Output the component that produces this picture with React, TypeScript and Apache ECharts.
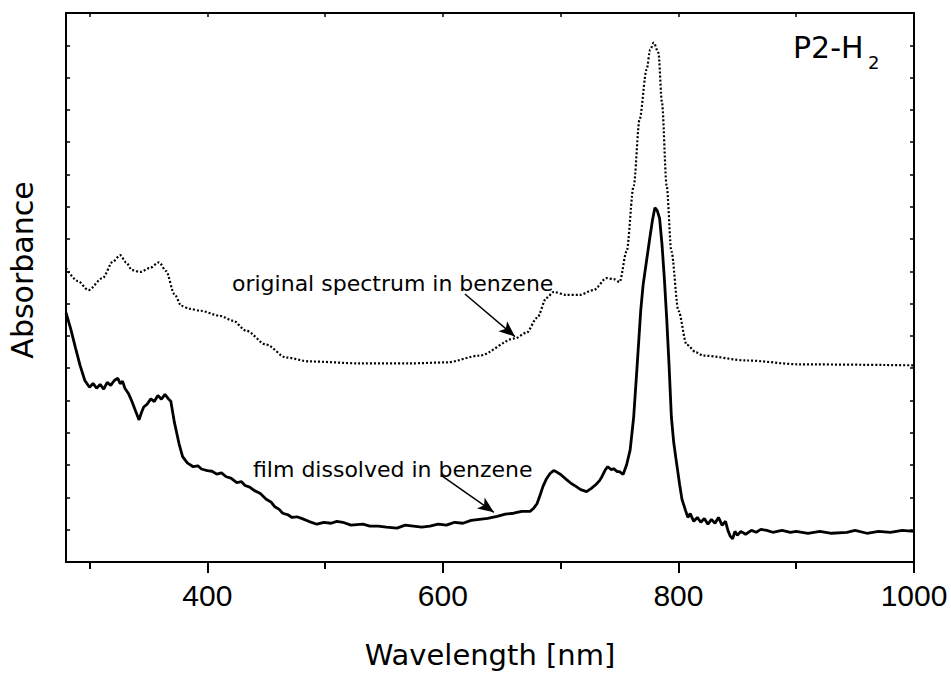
import React, { useEffect, useRef } from "react";
import * as echarts from "echarts";

// Wavelength ticks
const majorTicks = [400, 600, 800, 1000];
const minorTicks = [300, 500, 700, 900];
const allTicks = [300, 400, 500, 600, 700, 800, 900, 1000];

// Original spectrum in benzene (dotted)
const origX = [280, 290, 299, 311, 320, 326, 331, 336, 343, 351, 359, 365, 372, 378, 385, 394, 411, 422, 433, 450, 467, 487, 530, 572, 603, 631, 661, 671, 680, 688, 694, 705, 716, 728, 739, 745, 750, 756, 762, 767, 773, 776, 779, 783, 786, 790, 794, 800, 807, 815, 821, 858, 903, 1000];
const origY = [0.910, 0.870, 0.842, 0.879, 0.931, 0.950, 0.928, 0.904, 0.898, 0.910, 0.928, 0.901, 0.830, 0.793, 0.784, 0.778, 0.762, 0.747, 0.716, 0.673, 0.633, 0.621, 0.615, 0.615, 0.618, 0.639, 0.692, 0.710, 0.756, 0.818, 0.836, 0.827, 0.827, 0.842, 0.879, 0.876, 0.867, 0.962, 1.165, 1.371, 1.525, 1.586, 1.608, 1.577, 1.423, 1.165, 0.962, 0.778, 0.673, 0.649, 0.639, 0.624, 0.612, 0.609];

// Film dissolved in benzene (solid)
const filmX = [280, 284, 288, 292, 296, 300, 303, 306, 309, 312, 315, 318, 321, 324, 326, 328, 330, 333, 336, 339, 342, 344, 346, 349, 352, 355, 358, 361, 364, 367, 369, 372, 376, 379, 383, 388, 392, 395, 400, 404, 408, 412, 416, 420, 425, 429, 432, 436, 440, 445, 450, 454, 457, 461, 464, 468, 472, 476, 480, 486, 493, 499, 505, 510, 515, 522, 532, 538, 545, 552, 561, 568, 575, 582, 589, 596, 603, 610, 617, 624, 631, 638, 646, 653, 660, 667, 674, 677, 680, 683, 685, 688, 691, 694, 696, 700, 705, 709, 713, 717, 722, 726, 730, 733, 735, 738, 740, 743, 745, 748, 750, 753, 756, 759, 762, 765, 768, 770, 773, 776, 778, 780, 782, 784, 786, 788, 790, 792, 794, 796, 798, 801, 803, 806, 808, 810, 813, 816, 819, 822, 825, 828, 831, 834, 837, 840, 842, 844, 846, 848, 850, 853, 857, 862, 866, 870, 875, 880, 888, 895, 900, 910, 920, 930, 943, 950, 960, 970, 980, 990, 1000];
const filmY = [0.772, 0.722, 0.664, 0.608, 0.562, 0.541, 0.553, 0.538, 0.550, 0.535, 0.556, 0.547, 0.562, 0.569, 0.552, 0.560, 0.538, 0.522, 0.497, 0.468, 0.440, 0.462, 0.480, 0.489, 0.505, 0.497, 0.516, 0.504, 0.519, 0.505, 0.498, 0.433, 0.366, 0.326, 0.307, 0.295, 0.298, 0.288, 0.283, 0.281, 0.272, 0.276, 0.264, 0.260, 0.246, 0.249, 0.237, 0.232, 0.221, 0.212, 0.194, 0.186, 0.172, 0.163, 0.151, 0.147, 0.138, 0.140, 0.135, 0.126, 0.117, 0.123, 0.120, 0.126, 0.123, 0.114, 0.117, 0.111, 0.111, 0.108, 0.105, 0.114, 0.111, 0.108, 0.111, 0.117, 0.114, 0.123, 0.120, 0.129, 0.132, 0.135, 0.141, 0.148, 0.151, 0.157, 0.157, 0.166, 0.181, 0.212, 0.234, 0.258, 0.274, 0.283, 0.280, 0.271, 0.255, 0.243, 0.234, 0.224, 0.218, 0.228, 0.240, 0.252, 0.264, 0.286, 0.295, 0.286, 0.289, 0.280, 0.280, 0.271, 0.301, 0.347, 0.449, 0.612, 0.780, 0.858, 0.935, 1.011, 1.060, 1.097, 1.088, 1.064, 0.985, 0.880, 0.756, 0.612, 0.449, 0.370, 0.317, 0.240, 0.194, 0.160, 0.138, 0.150, 0.126, 0.138, 0.123, 0.135, 0.117, 0.132, 0.120, 0.138, 0.114, 0.126, 0.098, 0.080, 0.072, 0.095, 0.083, 0.095, 0.086, 0.098, 0.092, 0.101, 0.098, 0.092, 0.098, 0.092, 0.095, 0.089, 0.095, 0.089, 0.092, 0.098, 0.089, 0.095, 0.092, 0.098, 0.095];

const zip = (xs: number[], ys: number[]) => xs.map((x, i) => [x, ys[i]]);

export default function App() {
  const ref = useRef<HTMLDivElement>(null);
  useEffect(() => {
    if (!ref.current) return;
    const chart = echarts.init(ref.current, undefined, { renderer: "svg" });
    const axisLineStyle = { color: "#000", width: 2 };
    const tickFont = "Liberation Sans";
    const annFont = "DejaVu Sans";
    const baseX = {
      type: "value",
      min: 280,
      max: 1000,
      splitLine: { show: false },
    };
    const baseY = {
      type: "value",
      min: 0,
      max: 1.7,
      interval: 0.1,
      splitLine: { show: false },
      axisLabel: { show: false },
      axisLine: { show: true, lineStyle: axisLineStyle },
      axisTick: { show: true, inside: true, length: 4, lineStyle: { color: "#000", width: 1.5 } },
    };
    chart.setOption({
      animation: false,
      grid: { left: 66, right: 37, top: 13, bottom: 108 },
      xAxis: [
        {
          ...baseX,
          position: "bottom",
          axisLine: { show: true, lineStyle: axisLineStyle },
          axisTick: { show: true, length: 11, customValues: majorTicks, lineStyle: { color: "#000", width: 2 } },
          axisLabel: {
            show: true,
            customValues: majorTicks,
            margin: 18,
            color: "#000",
            fontSize: 30,
            fontFamily: tickFont,
            formatter: (v: number) => String(v),
          },
          name: "Wavelength [nm]",
          nameLocation: "middle",
          nameGap: 78,
          nameTextStyle: { color: "#000", fontSize: 29, fontFamily: annFont },
        },
        {
          ...baseX,
          position: "bottom",
          axisLine: { show: false },
          axisTick: { show: true, length: 7, customValues: minorTicks, lineStyle: { color: "#000", width: 2 } },
          axisLabel: { show: false },
        },
        {
          ...baseX,
          position: "top",
          axisLine: { show: true, lineStyle: axisLineStyle },
          axisTick: { show: true, inside: true, length: 4, customValues: allTicks, lineStyle: { color: "#000", width: 1.5 } },
          axisLabel: { show: false },
        },
      ],
      yAxis: [
        { ...baseY, position: "left" },
        { ...baseY, position: "right" },
      ],
      series: [
        {
          type: "line",
          name: "original spectrum in benzene",
          data: zip(origX, origY),
          xAxisIndex: 0,
          yAxisIndex: 0,
          showSymbol: false,
          smooth: 0.3,
          smoothMonotone: "x",
          lineStyle: { color: "#000", width: 2.2, type: [2, 2], cap: "butt" },
          silent: true,
          markLine: {
            silent: true,
            symbol: ["none", "arrow"],
            symbolSize: [10, 16],
            label: { show: false },
            lineStyle: { color: "#000", width: 1.5, type: "solid" },
            data: [
              [{ coord: [618.7, 0.83] }, { coord: [661.2, 0.698] }],
              [{ coord: [599.2, 0.267] }, { coord: [643.3, 0.154] }],
            ],
          },
        },
        {
          type: "line",
          name: "film dissolved in benzene",
          data: zip(filmX, filmY),
          xAxisIndex: 0,
          yAxisIndex: 0,
          showSymbol: false,
          lineStyle: { color: "#000", width: 2.8 },
          silent: true,
        },
      ],
      graphic: [
        {
          type: "text",
          x: 232,
          y: 283,
          style: { text: "original spectrum in benzene", fill: "#000", font: '22px "DejaVu Sans", sans-serif', textAlign: "left", textVerticalAlign: "middle" },
        },
        {
          type: "text",
          x: 253,
          y: 469,
          style: { text: "film dissolved in benzene", fill: "#000", font: '22px "DejaVu Sans", sans-serif', textAlign: "left", textVerticalAlign: "middle" },
        },
        {
          type: "text",
          x: 793,
          y: 47,
          style: { text: "P2-H", fill: "#000", font: '30px "DejaVu Sans", sans-serif', textAlign: "left", textVerticalAlign: "middle" },
        },
        {
          type: "text",
          x: 868,
          y: 62,
          style: { text: "2", fill: "#000", font: '18px "DejaVu Sans", sans-serif', textAlign: "left", textVerticalAlign: "middle" },
        },
        {
          type: "text",
          x: 22,
          y: 270,
          rotation: Math.PI / 2,
          style: { text: "Absorbance", fill: "#000", font: '30px "DejaVu Sans", sans-serif', textAlign: "center", textVerticalAlign: "middle" },
        },
      ],
    });
    return () => chart.dispose();
  }, []);
  return <div ref={ref} style={{ width: 951, height: 674, position: "absolute", left: 0, top: 0 }} />;
}
